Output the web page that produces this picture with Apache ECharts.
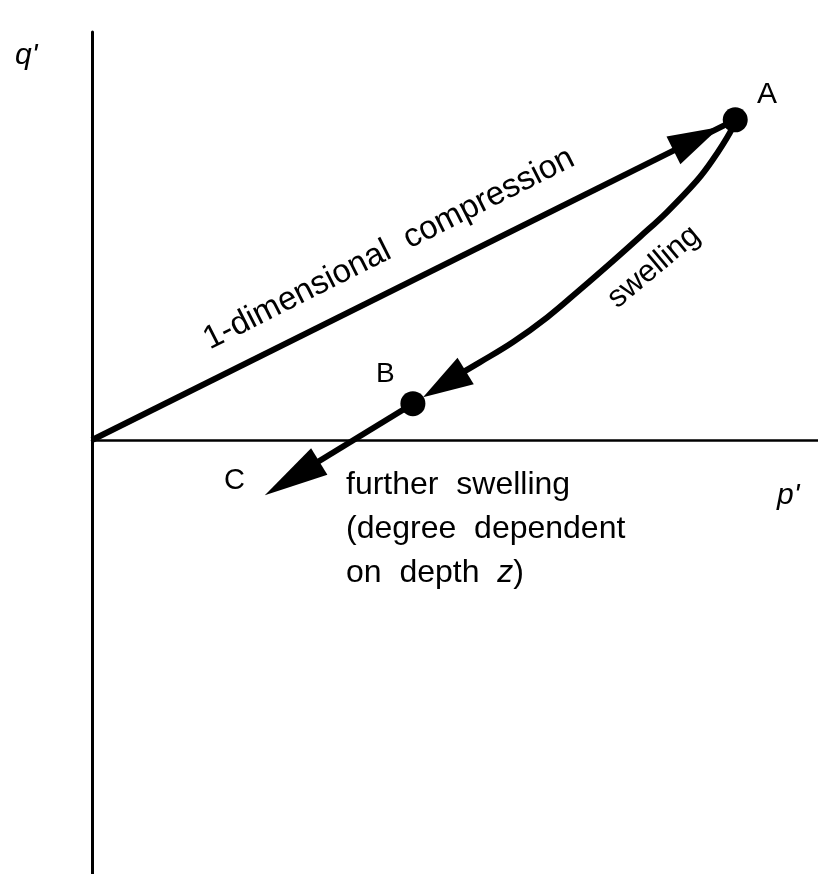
<!DOCTYPE html>
<html><head><meta charset="utf-8">
<script src="https://cdn.jsdelivr.net/npm/echarts@6/dist/echarts.min.js"></script>
<style>html,body{margin:0;padding:0;background:#fff}#c{width:818px;height:874px}</style>
</head><body><div id="c"></div>
<script>
const FONT = '"Liberation Sans", Arial, Helvetica, sans-serif';
// Stress paths in the (p', q') plane, arbitrary units
const compressionPath = [[0, 0], [88.6, 44.1]];
const swellingPath = [[88.6, 44.1], [87.9, 42.4], [85.5, 38.6], [83.3, 35.7], [79.2, 31.4], [75.5, 28.0], [71.8, 24.7], [67.2, 20.7], [62.7, 16.9], [58.0, 13.5], [53.4, 10.7], [48.6, 7.9]];
const furtherPath = [[44.2, 5.0], [27.7, -5.1]];
const statePoints = [[88.6, 44.1], [44.2, 5.0]];
const stateNames = ['A', 'B'];
// arrowheads: [tip p', tip q', direction-from p', direction-from q']
const arrowHeads = [[86.5, 43.1, 0, 0], [45.6, 5.9, 53.4, 10.7], [23.8, -7.6, 44.2, 5.0]];
const arrowSizes = [[52, 31], [50, 31], [64, 31]];

const PX = 7.26;
const chart = echarts.init(document.getElementById('c'), null, {renderer: 'canvas'});
const hidden = {show: false};
chart.setOption({
  animation: false,
  backgroundColor: '#fff',
  grid: {left: 92, right: 0, top: 32, bottom: 0, containLabel: false},
  xAxis: {type: 'value', min: 0, max: 726 / PX,
    axisLine: {show: true, onZero: true, lineStyle: {color: '#000', width: 2.5}},
    axisTick: hidden, axisLabel: hidden, splitLine: hidden},
  yAxis: {type: 'value', min: -434 / PX, max: 408 / PX,
    axisLine: {show: true, onZero: false, lineStyle: {color: '#000', width: 3}},
    axisTick: hidden, axisLabel: hidden, splitLine: hidden},
  series: [
    {type: 'line', data: compressionPath, showSymbol: false, symbol: 'none', z: 2,
      lineStyle: {color: '#000', width: 6}},
    {type: 'line', data: swellingPath, showSymbol: false, symbol: 'none', smooth: 0.4, z: 2,
      lineStyle: {color: '#000', width: 6}},
    {type: 'line', data: furtherPath, showSymbol: false, symbol: 'none', z: 2,
      lineStyle: {color: '#000', width: 6}},
    {type: 'custom', data: arrowHeads, encode: {x: 0, y: 1}, clip: false, z: 3,
      renderItem: function (params, api) {
        const tip = api.coord([api.value(0), api.value(1)]);
        const from = api.coord([api.value(2), api.value(3)]);
        let dx = tip[0] - from[0], dy = tip[1] - from[1];
        const L = Math.hypot(dx, dy); dx /= L; dy /= L;
        const s = arrowSizes[params.dataIndex];
        const bx = tip[0] - dx * s[0], by = tip[1] - dy * s[0];
        const px = -dy * s[1] / 2, py = dx * s[1] / 2;
        return {type: 'polygon', shape: {points: [tip, [bx + px, by + py], [bx - px, by - py]]},
          style: {fill: '#000'}};
      }},
    {type: 'scatter', data: statePoints.map((p, i) => ({value: p, name: stateNames[i]})),
      symbol: 'circle', symbolSize: 25, z: 4, itemStyle: {color: '#000', opacity: 1}}
  ],
  graphic: [
    {type: 'text', x: 15, y: 56, style: {text: "q'", font: 'italic 30px ' + FONT, fill: '#000', align: 'left', verticalAlign: 'middle'}},
    {type: 'text', x: 777, y: 496, style: {text: "p'", font: 'italic 30px ' + FONT, fill: '#000', align: 'left', verticalAlign: 'middle'}},
    {type: 'text', x: 757, y: 95, style: {text: 'A', font: '30px ' + FONT, fill: '#000', align: 'left', verticalAlign: 'middle'}},
    {type: 'text', x: 376, y: 374, style: {text: 'B', font: '28px ' + FONT, fill: '#000', align: 'left', verticalAlign: 'middle'}},
    {type: 'text', x: 224, y: 481, style: {text: 'C', font: '29px ' + FONT, fill: '#000', align: 'left', verticalAlign: 'middle'}},
    {type: 'text', x: 389, y: 249, rotation: 26.8 * Math.PI / 180,
      style: {text: '1-dimensional  compression', font: '33px ' + FONT, fill: '#000', align: 'center', verticalAlign: 'middle'}},
    {type: 'text', x: 654, y: 267, rotation: 40 * Math.PI / 180,
      style: {text: 'swelling', font: '31px ' + FONT, fill: '#000', align: 'center', verticalAlign: 'middle'}},
    {type: 'text', x: 346, y: 463,
      style: {text: 'further  swelling\n(degree  dependent\non  depth  {i|z})', font: '32px ' + FONT, fill: '#000',
        align: 'left', verticalAlign: 'top', lineHeight: 44,
        rich: {i: {fontStyle: 'italic', fontSize: 32, fontFamily: FONT, lineHeight: 44, fill: '#000'}}}}
  ]
});
</script></body></html>
